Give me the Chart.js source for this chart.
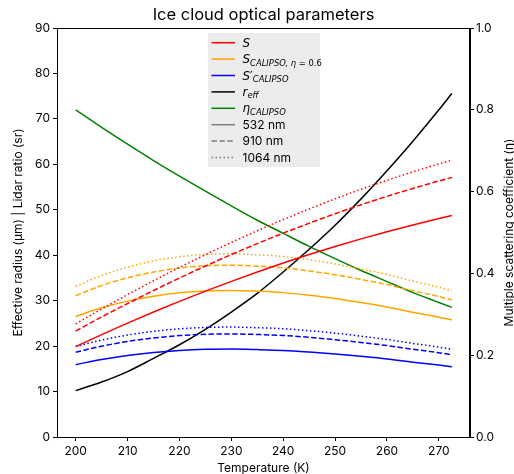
<!DOCTYPE html>
<html>
<head>
<meta charset="utf-8">
<script src="https://cdn.jsdelivr.net/npm/chart.js@4.4.1/dist/chart.umd.min.js"></script>
<style>
  html, body { margin: 0; padding: 0; background: #ffffff; }
  #wrap { width: 514px; height: 474px; }
</style>
</head>
<body>
<div id="wrap"><canvas id="chart" width="514" height="474"></canvas></div>
<script>
// Temperature grid (K)
const temperature = [200, 205, 210, 215, 220, 225, 230, 235, 240, 245, 250, 255, 260, 265, 270, 272.5];

// Lidar ratio S (sr) at 532 / 910 / 1064 nm
const s532  = [19.90, 22.53, 25.06, 27.50, 29.85, 32.10, 34.25, 36.31, 38.28, 40.14, 41.92, 43.60, 45.18, 46.67, 48.07, 48.73];
const s910  = [23.32, 26.41, 29.37, 32.23, 34.98, 37.62, 40.14, 42.56, 44.86, 47.04, 49.13, 51.10, 52.95, 54.70, 56.34, 57.11];
const s1064 = [24.88, 28.16, 31.33, 34.38, 37.31, 40.13, 42.81, 45.39, 47.85, 50.18, 52.40, 54.50, 56.48, 58.34, 60.09, 60.91];

// S_CALIPSO (eta = 0.6) at 532 / 910 / 1064 nm
const sCal532  = [26.53, 28.43, 29.90, 30.98, 31.73, 32.15, 32.25, 32.07, 31.77, 31.18, 30.47, 29.58, 28.62, 27.45, 26.37, 25.75];
const sCal910  = [31.09, 33.32, 35.04, 36.31, 37.19, 37.68, 37.80, 37.59, 37.23, 36.54, 35.71, 34.67, 33.54, 32.17, 30.91, 30.18];
const sCal1064 = [33.16, 35.54, 37.38, 38.73, 39.66, 40.19, 40.31, 40.09, 39.71, 38.98, 38.09, 36.98, 35.78, 34.31, 32.96, 32.19];

// S'_CALIPSO at 532 / 910 / 1064 nm
const sPrime532  = [15.92, 17.06, 17.94, 18.59, 19.04, 19.29, 19.35, 19.24, 19.06, 18.71, 18.28, 17.75, 17.17, 16.47, 15.82, 15.45];
const sPrime910  = [18.66, 19.99, 21.03, 21.79, 22.31, 22.61, 22.68, 22.55, 22.34, 21.93, 21.42, 20.80, 20.12, 19.30, 18.54, 18.11];
const sPrime1064 = [19.90, 21.33, 22.43, 23.24, 23.80, 24.11, 24.19, 24.05, 23.83, 23.39, 22.85, 22.19, 21.46, 20.59, 19.78, 19.31];

// Effective radius (um)
const rEff = [10.2, 12.1, 14.4, 17.3, 20.3, 23.7, 27.5, 31.6, 36.3, 41.3, 46.6, 52.4, 58.6, 65.1, 72.0, 75.6];

// Multiple scattering coefficient eta_CALIPSO
const etaCalipso = [0.800, 0.757, 0.716, 0.676, 0.638, 0.601, 0.565, 0.530, 0.498, 0.466, 0.436, 0.407, 0.380, 0.353, 0.329, 0.317];

// Axis ticks
const xTicks = [200, 210, 220, 230, 240, 250, 260, 270];
const leftTicks = [0, 10, 20, 30, 40, 50, 60, 70, 80, 90];
const rightTicks = [0.0, 0.2, 0.4, 0.6, 0.8, 1.0];

const FONT = 'Inter, "DejaVu Sans", sans-serif';
const MATH = '"DejaVu Sans", sans-serif';

const SOLID = [], DASHED = [5.5, 2.4], DOTTED = [1.5, 2.5];

function pts(values) {
  return temperature.map((t, i) => ({ x: t, y: values[i] }));
}

function line(values, color, dash, axis) {
  return {
    data: pts(values),
    borderColor: color,
    backgroundColor: color,
    borderWidth: 1.5,
    borderDash: dash,
    borderCapStyle: 'butt',
    pointRadius: 0,
    fill: false,
    cubicInterpolationMode: 'monotone',
    yAxisID: axis || 'y'
  };
}

const datasets = [
  line(s532, '#ff0000', SOLID),
  line(s910, '#ff0000', DASHED),
  line(s1064, '#ff0000', DOTTED),
  line(sCal532, '#ffa500', SOLID),
  line(sCal910, '#ffa500', DASHED),
  line(sCal1064, '#ffa500', DOTTED),
  line(sPrime532, '#0000ff', SOLID),
  line(sPrime910, '#0000ff', DASHED),
  line(sPrime1064, '#0000ff', DOTTED),
  line(rEff, '#000000', SOLID),
  line(etaCalipso, '#008000', SOLID, 'y2')
];

// Legend entries: runs of [text, kind] where kind is 'm' (math italic), 'mu' (math upright),
// 's' (subscript italic), 'su' (subscript upright), 't' (plain text)
const legendEntries = [
  { color: '#ff0000', dash: SOLID, runs: [['S', 'm']] },
  { color: '#ffa500', dash: SOLID, runs: [['S', 'm'], ['CALIPSO, η', 's'], [' = 0.6', 'su']] },
  { color: '#0000ff', dash: SOLID, runs: [['S', 'm'], ['′', 'mu'], ['CALIPSO', 's']] },
  { color: '#000000', dash: SOLID, runs: [['r', 'm'], ['eff', 's']] },
  { color: '#008000', dash: SOLID, runs: [['η', 'm'], ['CALIPSO', 's']] },
  { color: '#808080', dash: SOLID, runs: [['532 nm', 't']] },
  { color: '#808080', dash: DASHED, runs: [['910 nm', 't']] },
  { color: '#808080', dash: DOTTED, runs: [['1064 nm', 't']] }
];

const decorations = {
  id: 'decorations',
  afterDraw(chart) {
    const ctx = chart.ctx;
    const a = chart.chartArea;
    ctx.save();

    // Frame around the plotting area
    ctx.strokeStyle = '#000';
    ctx.lineWidth = 1;
    ctx.setLineDash([]);
    ctx.strokeRect(Math.round(a.left) + 0.5, Math.round(a.top) + 0.5,
                   Math.round(a.right - a.left) - 1, Math.round(a.bottom - a.top));

    // Title
    ctx.fillStyle = '#000';
    ctx.font = '16.5px ' + FONT;
    ctx.textAlign = 'center';
    ctx.textBaseline = 'alphabetic';
    ctx.fillText('Ice cloud optical parameters', (a.left + a.right) / 2, 20);

    // Axis titles
    ctx.font = '12px ' + FONT;
    ctx.fillText('Temperature (K)', (a.left + a.right) / 2, 472);
    ctx.save();
    ctx.translate(22, (a.top + a.bottom) / 2);
    ctx.rotate(-Math.PI / 2);
    ctx.fillText('Effective radius (μm) | Lidar ratio (sr)', 0, 0);
    ctx.restore();
    ctx.save();
    ctx.translate(513, (a.top + a.bottom) / 2);
    ctx.rotate(-Math.PI / 2);
    ctx.fillText('Multiple scattering coefficient (η)', 0, 0);
    ctx.restore();

    // Legend box
    const bx = 208, by = 33, bw = 112, bh = 134;
    ctx.fillStyle = 'rgba(235,235,235,0.95)';
    ctx.fillRect(bx, by, bw, bh);

    ctx.textAlign = 'left';
    legendEntries.forEach((e, k) => {
      const y = 42.7 + k * 16.4;
      ctx.strokeStyle = e.color;
      ctx.lineWidth = 1.5;
      ctx.setLineDash(e.dash);
      ctx.beginPath();
      ctx.moveTo(211.5, y);
      ctx.lineTo(235, y);
      ctx.stroke();
      ctx.setLineDash([]);

      let x = 242.5;
      const base = y + 4;
      ctx.fillStyle = '#000';
      e.runs.forEach(([txt, kind]) => {
        let yy = base;
        if (kind === 'm') ctx.font = 'oblique 12px ' + MATH;
        else if (kind === 'mu') ctx.font = '12px ' + MATH;
        else if (kind === 's') { ctx.font = 'oblique 8.4px ' + MATH; yy = base + 2.5; }
        else if (kind === 'su') { ctx.font = '8.4px ' + MATH; yy = base + 2.5; }
        else ctx.font = '12px ' + FONT;
        ctx.fillText(txt, x, yy);
        x += ctx.measureText(txt).width;
      });
    });

    ctx.restore();
  }
};

const tickFont = { family: FONT, size: 12 };

new Chart(document.getElementById('chart'), {
  type: 'line',
  data: { datasets },
  options: {
    responsive: false,
    animation: false,
    devicePixelRatio: 1,
    layout: { padding: { top: 28, left: 0, right: 0, bottom: 0 } },
    plugins: { legend: { display: false }, tooltip: { enabled: false }, title: { display: false } },
    scales: {
      x: {
        type: 'linear',
        position: 'bottom',
        min: 196.4,
        max: 276.0,
        afterBuildTicks: s => { s.ticks = xTicks.map(v => ({ value: v })); },
        afterFit: s => { s.height = 37; },
        grid: { drawOnChartArea: false, drawTicks: true, tickLength: 4, color: '#000' },
        border: { display: true, color: '#000', width: 1 },
        ticks: { color: '#000', font: tickFont, padding: 3, maxRotation: 0, autoSkip: false }
      },
      y: {
        type: 'linear',
        position: 'left',
        min: 0,
        max: 90,
        afterBuildTicks: s => { s.ticks = leftTicks.map(v => ({ value: v })); },
        afterFit: s => { s.width = 57; },
        grid: { drawOnChartArea: false, drawTicks: true, tickLength: 4, color: '#000' },
        border: { display: true, color: '#000', width: 1 },
        ticks: { color: '#000', font: tickFont, padding: 3, autoSkip: false }
      },
      y2: {
        type: 'linear',
        position: 'right',
        min: 0,
        max: 1,
        afterBuildTicks: s => { s.ticks = rightTicks.map(v => ({ value: v })); },
        afterFit: s => { s.width = 44; },
        grid: { drawOnChartArea: false, drawTicks: true, tickLength: 4, color: '#000' },
        border: { display: true, color: '#000', width: 1 },
        ticks: { color: '#000', font: tickFont, padding: 2, autoSkip: false,
                 callback: v => Number(v).toFixed(1) }
      }
    }
  },
  plugins: [decorations]
});
</script>
</body>
</html>
